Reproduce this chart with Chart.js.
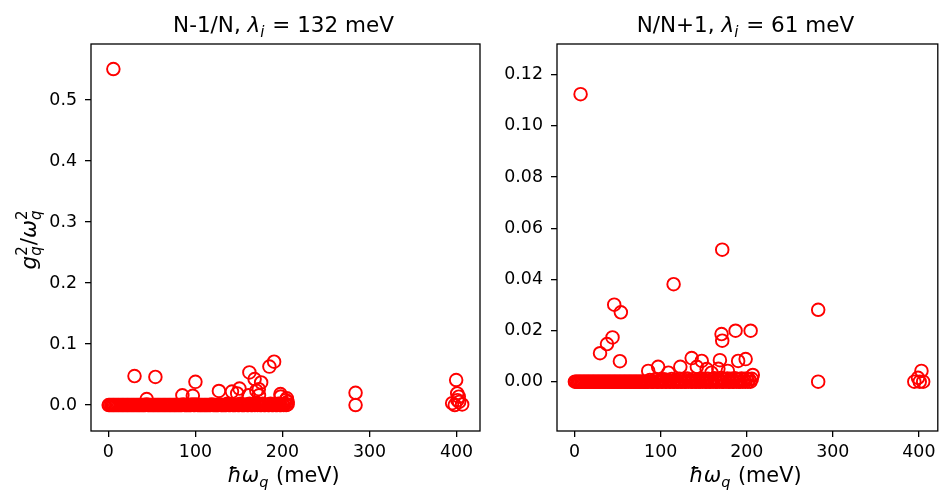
<!DOCTYPE html>
<html>
<head>
<meta charset="utf-8">
<script src="https://cdn.jsdelivr.net/npm/chart.js@4.4.0/dist/chart.umd.min.js"></script>
<style>
html, body { margin: 0; padding: 0; background: #fff; }
#wrap { position: relative; width: 946px; height: 494px; }
#wrap canvas { position: absolute; top: 0; }
</style>
</head>
<body>
<div id="wrap">
  <canvas id="leftChart" width="490" height="494" style="left:0"></canvas>
  <canvas id="rightChart" width="456" height="494" style="left:490px"></canvas>
</div>
<script>
// tick labels
const xTicks = [0, 100, 200, 300, 400];
const leftYTicks = [0, 0.1, 0.2, 0.3, 0.4, 0.5];
const rightYTicks = [0, 0.02, 0.04, 0.06, 0.08, 0.10, 0.12];

// dense band of modes with ~zero coupling (same energies in both panels)
const bandX = [
  0.3, 1.8, 3.4, 4.9, 6.3, 7.8, 9.4, 10.9, 12.3, 13.9, 15.4, 16.8,
  18.3, 19.9, 21.4, 22.8, 24.3, 25.9, 27.4, 28.8, 30.3, 31.9, 33.4, 34.8,
  36.3, 37.9, 39.4, 40.8, 42.3, 43.9, 45.4, 46.8, 48.3, 49.9, 51.4, 52.8,
  54.3, 55.9, 57.4, 58.8, 60.3, 61.9, 63.4, 64.8, 66.3, 67.9, 69.4, 70.8,
  72.3, 73.9, 75.4, 76.8, 78.3, 79.9, 81.4, 82.8, 84.3, 85.9, 87.4, 88.8,
  90.3, 91.9, 93.4, 94.8, 96.3, 97.9, 99.4, 100.8, 102.3, 103.9, 105.4, 106.8,
  108.3, 109.9, 111.4, 112.8, 114.3, 115.9, 117.4, 118.8, 120.3, 121.9, 123.4, 124.8,
  126.3, 127.9, 129.4, 130.8, 132.3, 133.9, 135.4, 136.8, 138.3, 139.9, 141.4, 142.8,
  144.3, 145.9, 147.4, 148.8, 150.3, 151.9, 153.4, 154.8, 156.3, 157.9, 159.4, 160.8,
  162.3, 163.9, 165.4, 166.8, 168.3, 169.9, 171.4, 172.8, 174.3, 175.9, 177.4, 178.8,
  180.3, 181.9, 183.4, 184.8, 186.3, 187.9, 189.4, 190.8, 192.3, 193.9, 195.4, 196.8,
  198.3, 199.9, 201.4, 202.8, 204.3, 205.9];
const leftBandY = [
  0, 0, 0, 0, 0, 0, 0, 0, 0, 0, 0, 0,
  0, 0, 0, 0, 0, 0, 0, 0, 0, 0, 0, 0,
  0, 0, 0, 0, 0, 0.001, 0, 0, 0, 0, 0, 0,
  0, 0, 0, 0, 0, 0, 0, 0, 0, 0, 0, 0,
  0, 0, 0, 0, 0, 0, 0, 0, 0, 0.001, 0, 0,
  0, 0, 0, 0, 0.001, 0, 0, 0.001, 0, 0, 0, 0,
  0, 0, 0, 0, 0, 0, 0, 0.001, 0, 0, 0, 0,
  0, 0.001, 0, 0, 0, 0, 0, 0.002, 0, 0, 0.001, 0,
  0, 0, 0.001, 0, 0, 0.002, 0, 0, 0, 0.001, 0, 0,
  0.002, 0, 0, 0.001, 0, 0.003, 0, 0.001, 0, 0, 0.002, 0,
  0, 0.001, 0, 0, 0.002, 0, 0, 0.001, 0, 0, 0.002, 0,
  0, 0.001, 0, 0.002, 0, 0.001];
const rightBandY = [
  0, 0, 0, 0, 0, 0, 0, 0, 0, 0, 0, 0,
  0, 0, 0, 0, 0, 0, 0, 0, 0, 0, 0, 0,
  0, 0, 0, 0, 0, 0, 0, 0, 0, 0, 0, 0,
  0, 0, 0, 0, 0, 0, 0, 0, 0, 0, 0, 0,
  0, 0, 0, 0, 0, 0, 0, 0, 0, 0, 0.0006, 0,
  0, 0, 0.0008, 0, 0, 0, 0.0005, 0, 0, 0.0009, 0, 0,
  0.0006, 0, 0, 0.001, 0, 0, 0.0007, 0, 0, 0.0011, 0, 0,
  0.0008, 0, 0, 0.0012, 0, 0.0006, 0, 0, 0.001, 0, 0, 0.0007,
  0, 0, 0.0012, 0, 0.0008, 0, 0, 0.0011, 0, 0, 0.0009, 0,
  0.0013, 0, 0, 0.001, 0, 0.0014, 0, 0, 0.0008, 0, 0.0012, 0,
  0, 0.0011, 0, 0, 0.0013, 0, 0.0009, 0, 0, 0.0012, 0, 0.0007,
  0, 0.0012, 0, 0.0009, 0, 0.0011];

// N-1/N outliers
const leftX = [5.7, 30, 54, 44, 85, 97, 100, 127, 142, 150.6, 162, 168, 175.5, 170, 185, 190.4,
  172.8, 197.7, 205, 161, 148, 173, 198, 204, 206, 284, 284, 399.6, 400.8, 402.6, 395, 406.5, 403, 398, 401];
const leftY = [0.551, 0.0475, 0.046, 0.0098, 0.016, 0.015, 0.038, 0.023, 0.022, 0.027, 0.0535, 0.0426,
  0.037, 0.0235, 0.063, 0.071, 0.026, 0.018, 0.011, 0.016, 0.019, 0.016, 0.014, 0.008, 0.005,
  0.020, 0.0, 0.041, 0.019, 0.0137, 0.003, 0.001, 0.005, 0.0, 0.008];

// N/N+1 outliers
const rightX = [6.9, 171.5, 115, 46, 53.7, 44, 37.6, 29.5, 52.6, 170.7, 171.5, 187, 204.5, 136,
  168.8, 190, 198.7, 147.7, 97, 85.5, 122.8, 142, 153.4, 109, 167, 178, 207, 159,
  283, 283, 401, 403, 394.7, 405, 399];
const rightY = [0.1124, 0.0516, 0.0381, 0.0301, 0.0271, 0.0173, 0.0147, 0.0111, 0.008, 0.0186, 0.016,
  0.0199, 0.0199, 0.0092, 0.0084, 0.0081, 0.0088, 0.0081, 0.0058, 0.0042, 0.0058, 0.0058, 0.0049,
  0.0035, 0.005, 0.0042, 0.0026, 0.0035, 0.0281, 0.0, 0.0, 0.0042, 0.0, 0.0, 0.0015];

const FONT = '"DejaVu Sans", "Liberation Sans", sans-serif';

function fnt(it, size) {
  return (it ? 'italic ' : '') + size + 'px ' + FONT;
}

// small helper for text with sub/superscripts
function partWidth(ctx, p, size) {
  if (p.t !== undefined) {
    ctx.font = fnt(p.it, size);
    return ctx.measureText(p.t).width;
  }
  const s = size * 0.7;
  let w = 0;
  if (p.sup) { ctx.font = fnt(false, s); w = Math.max(w, ctx.measureText(p.sup).width); }
  if (p.sub) { ctx.font = fnt(true, s); w = Math.max(w, ctx.measureText(p.sub).width); }
  return w + 1;
}

function drawRich(ctx, parts, size, cx, y) {
  let total = 0;
  parts.forEach(p => total += partWidth(ctx, p, size));
  let x = cx - total / 2;
  ctx.fillStyle = '#000';
  ctx.textAlign = 'left';
  ctx.textBaseline = 'alphabetic';
  parts.forEach(p => {
    const w = partWidth(ctx, p, size);
    if (p.t !== undefined) {
      ctx.font = fnt(p.it, size);
      ctx.fillText(p.t, x, y);
    } else {
      const s = size * 0.7;
      if (p.sup) { ctx.font = fnt(false, s); ctx.fillText(p.sup, x, y - size * 0.42); }
      if (p.sub) { ctx.font = fnt(true, s); ctx.fillText(p.sub, x, y + size * 0.24); }
    }
    x += w;
  });
}

const decor = {
  id: 'decor',
  afterDraw(chart, args, opts) {
    const { ctx, chartArea: a } = chart;
    ctx.save();
    ctx.strokeStyle = '#000';
    ctx.lineWidth = 1.3;
    ctx.strokeRect(a.left, a.top, a.right - a.left, a.bottom - a.top);
    const cx = (a.left + a.right) / 2;
    drawRich(ctx, opts.title, 21.5, cx - 2, 32);
    drawRich(ctx, [{ t: 'ħω', it: true }, { sub: 'q' }, { t: ' (meV)' }], 20.8, cx - 2, 482);
    if (opts.ylabel) {
      ctx.translate(36, (a.top + a.bottom) / 2 + 2);
      ctx.rotate(-Math.PI / 2);
      drawRich(ctx, [{ t: 'g', it: true }, { sup: '2', sub: 'q' }, { t: '/' },
        { t: 'ω', it: true }, { sup: '2', sub: 'q' }], 21.5, 0, 0);
    }
    ctx.restore();
  }
};

function pts(xs, ys) {
  return xs.map((x, i) => ({ x: x, y: ys[i] }));
}

function makeChart(id, cfg) {
  const ds = (data) => ({
    data: data,
    borderColor: '#ff0000',
    backgroundColor: 'rgba(0,0,0,0)',
    pointRadius: 6.3,
    pointHoverRadius: 6.3,
    borderWidth: 1.9
  });
  return new Chart(document.getElementById(id), {
    type: 'scatter',
    data: {
      datasets: [ds(pts(bandX, cfg.bandY)), ds(pts(cfg.xs, cfg.ys))]
    },
    options: {
      responsive: false,
      animation: false,
      layout: { padding: { top: 44, right: cfg.padRight, left: 0, bottom: 0 } },
      plugins: {
        legend: { display: false },
        tooltip: { enabled: false },
        decor: { title: cfg.title, ylabel: cfg.ylabel }
      },
      scales: {
        x: {
          type: 'linear',
          min: cfg.xmin, max: cfg.xmax,
          afterBuildTicks: s => { s.ticks = xTicks.map(v => ({ value: v })); },
          afterFit: s => { s.height = 63; s.paddingLeft = 0; s.paddingRight = 0; },
          grid: { drawOnChartArea: false, tickLength: 6, color: '#000', lineWidth: 1.3 },
          border: { display: false },
          ticks: { font: { family: FONT, size: 17.4 }, color: '#000', padding: 5, maxRotation: 0, autoSkip: false }
        },
        y: {
          type: 'linear',
          min: cfg.ymin, max: cfg.ymax,
          afterBuildTicks: s => { s.ticks = cfg.yTicks.map(v => ({ value: v })); },
          afterFit: s => { s.width = cfg.yWidth; s.paddingTop = 0; s.paddingBottom = 0; },
          grid: { drawOnChartArea: false, tickLength: 6, color: '#000', lineWidth: 1.3 },
          border: { display: false },
          ticks: {
            font: { family: FONT, size: 17.4 }, color: '#000', padding: 8, autoSkip: false,
            callback: v => v.toFixed(cfg.digits)
          }
        }
      }
    },
    plugins: [decor]
  });
}

makeChart('leftChart', {
  bandY: leftBandY, xs: leftX, ys: leftY,
  xmin: -20, xmax: 427, ymin: -0.0426, ymax: 0.592,
  yTicks: leftYTicks, digits: 1, yWidth: 91, padRight: 10,
  title: [{ t: 'N-1/N, ' }, { t: 'λ', it: true }, { sub: 'i' }, { t: ' = 132 meV' }],
  ylabel: true
});

makeChart('rightChart', {
  bandY: rightBandY, xs: rightX, ys: rightY,
  xmin: -20.5, xmax: 422, ymin: -0.0193, ymax: 0.132,
  yTicks: rightYTicks, digits: 2, yWidth: 67, padRight: 1,
  title: [{ t: 'N/N+1, ' }, { t: 'λ', it: true }, { sub: 'i' }, { t: ' = 61 meV' }],
  ylabel: false
});
</script>
</body>
</html>
